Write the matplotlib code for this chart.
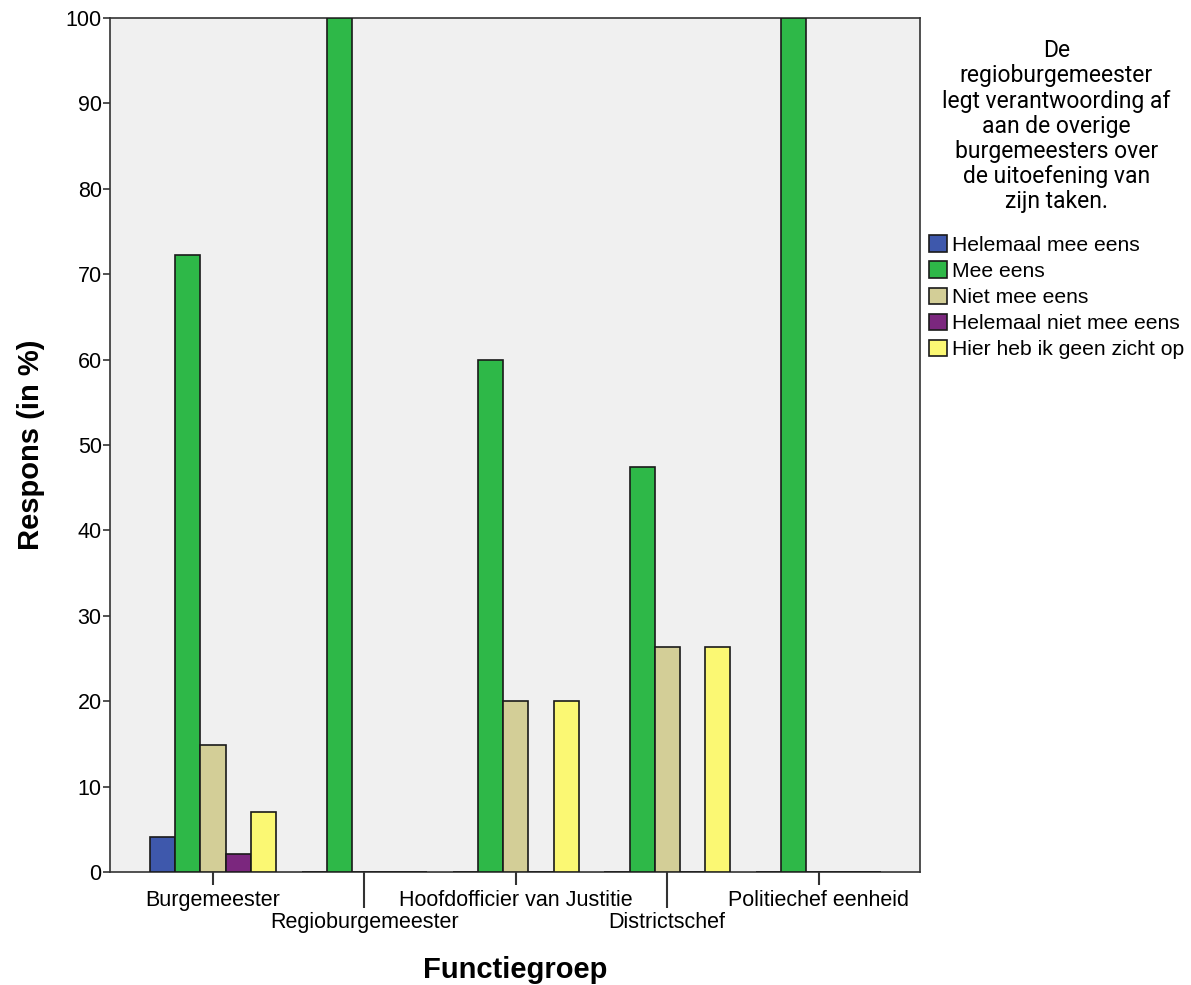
import matplotlib
matplotlib.use('Agg')
import matplotlib.pyplot as plt
import numpy as np

plt.rcParams['font.family'] = ['Liberation Sans', 'DejaVu Sans']

groups = ['Burgemeester', 'Regioburgemeester', 'Hoofdofficier van Justitie',
          'Districtschef', 'Politiechef eenheid']
answers = ['Helemaal mee eens', 'Mee eens', 'Niet mee eens',
           'Helemaal niet mee eens', 'Hier heb ik geen zicht op']
helemaal_eens = [4.1, 0, 0, 0, 0]
mee_eens = [72.3, 100, 60.0, 47.4, 100]
niet_eens = [14.9, 0, 20.0, 26.3, 0]
helemaal_niet = [2.1, 0, 0, 0, 0]
geen_zicht = [7.0, 0, 20.0, 26.3, 0]
colors = ['#3e58ac', '#2eb848', '#d3ce97', '#7b277e', '#fbf873']
legend_title = ('De\nregioburgemeester\nlegt verantwoording af\naan de overige\n'
                'burgemeesters over\nde uitoefening van\nzijn taken.')

series = [helemaal_eens, mee_eens, niet_eens, helemaal_niet, geen_zicht]

fig = plt.figure(figsize=(11.91, 9.85), dpi=100)
ax = fig.add_axes([0.0924, 0.1147, 0.6801, 0.867])
ax.set_facecolor('#f0f0f0')

x = np.arange(len(groups))
w = 0.166
for i, (vals, lab, c) in enumerate(zip(series, answers, colors)):
    ax.bar(x + (i - 2) * w, vals, w, color=c, edgecolor='#1a1a1a',
           linewidth=1.2, label=lab, zorder=3)

ax.set_xlim(-0.68, 4.67)
ax.set_ylim(0, 100)
ax.set_yticks(np.arange(0, 101, 10))
ax.tick_params(axis='y', labelsize=15.5, length=5, width=1.2, pad=1,
               color='#333333')

# staggered category labels
ax.set_xticks(x[::2])
ax.set_xticklabels(groups[::2])
ax.set_xticks(x[1::2], minor=True)
ax.set_xticklabels(groups[1::2], minor=True)
ax.tick_params(axis='x', which='major', labelsize=15.5, length=9.5, width=1.5,
               pad=3.5, color='#333333')
ax.tick_params(axis='x', which='minor', labelsize=15.5, length=26, width=1.5,
               pad=2.5, color='#333333')

for s in ax.spines.values():
    s.set_color('#333333')
    s.set_linewidth(1.2)

ax.set_ylabel('Respons (in %)', fontsize=21, fontweight='bold', labelpad=15)
ax.set_xlabel('Functiegroep', fontsize=21, fontweight='bold')
ax.xaxis.label.set_va('center')
ax.xaxis.set_label_coords(0.5, -0.1148)

leg = ax.legend(loc='upper left', bbox_to_anchor=(0.995, 0.99), frameon=False,
                title=legend_title, fontsize=15.2,
                title_fontproperties={'family': 'Roboto', 'size': 16.5},
                handlelength=0.85, handleheight=0.85, handletextpad=0.25,
                labelspacing=0.3, borderaxespad=0.2)
leg.get_title().set_multialignment('center')
leg.get_title().set_linespacing(1.12)
leg._legend_box.align = 'center'
leg._legend_box.sep = 16
for h in leg.legend_handles:
    h.set_edgecolor('#1a1a1a')

fig.savefig('out.png', dpi=100)
